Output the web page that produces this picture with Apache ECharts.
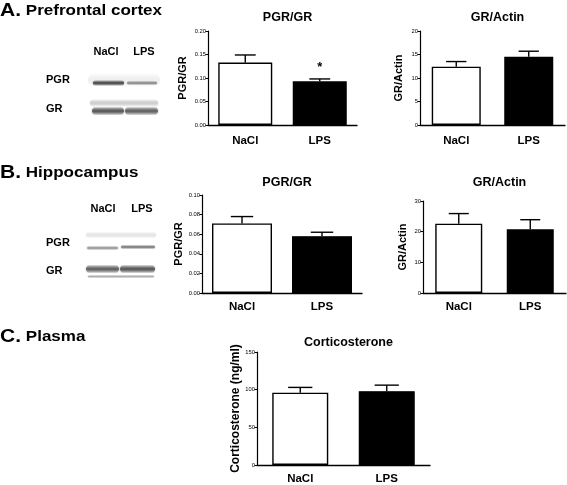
<!DOCTYPE html>
<html>
<head>
<meta charset="utf-8">
<script src="https://cdn.jsdelivr.net/npm/echarts@6/dist/echarts.min.js"></script>
<style>
  html, body { margin: 0; padding: 0; background: #fff; }
  #main { width: 567px; height: 485px; }
</style>
</head>
<body>
<div id="main"></div>
<script>
// groups and values (mean and upper error bar)
var groups = ['NaCl', 'LPS'];
var barColors = ['#ffffff', '#000000'];

var pfcPgrGr = [0.133, 0.093];
var pfcPgrGrErr = [0.149, 0.098];
var pfcPgrGrStars = ['', '*'];
var pfcGrActin = [12.4, 14.5];
var pfcGrActinErr = [13.5, 15.7];

var hipPgrGr = [0.071, 0.058];
var hipPgrGrErr = [0.078, 0.062];
var hipGrActin = [22.6, 20.8];
var hipGrActinErr = [25.9, 23.9];

var plasmaCort = [96, 98];
var plasmaCortErr = [103, 106];

var FONT = "'Liberation Sans', Arial, Helvetica, sans-serif";

document.addEventListener('DOMContentLoaded', function () {

    var myChart = echarts.init(document.getElementById('main'));

    // one panel = one grid, two axes, bars + error bars
    var panels = [
        { title: 'PGR/GR', yName: 'PGR/GR', grid: { left: 208, top: 31, width: 149, height: 94 },
          max: 0.20, interval: 0.05, digits: 2, mean: pfcPgrGr, err: pfcPgrGrErr, stars: pfcPgrGrStars,
          barWidth: 54, nameGap: 20, nameSize: 11, labelMargin: 10, titleTop: 6 },
        { title: 'GR/Actin', yName: 'GR/Actin', grid: { left: 420, top: 31, width: 145, height: 94 },
          max: 20, interval: 5, digits: 0, mean: pfcGrActin, err: pfcGrActinErr, stars: null,
          barWidth: 49, nameGap: 16, nameSize: 11, labelMargin: 10, titleTop: 6 },
        { title: 'PGR/GR', yName: 'PGR/GR', grid: { left: 202, top: 195, width: 160, height: 98 },
          max: 0.10, interval: 0.02, digits: 2, mean: hipPgrGr, err: hipPgrGrErr, stars: null,
          barWidth: 60, nameGap: 14, nameSize: 11, labelMargin: 8, titleTop: 171 },
        { title: 'GR/Actin', yName: 'GR/Actin', grid: { left: 423, top: 201, width: 143, height: 92 },
          max: 30, interval: 10, digits: 0, mean: hipGrActin, err: hipGrActinErr, stars: null,
          barWidth: 47, nameGap: 15, nameSize: 11, labelMargin: 8, titleTop: 171 },
        { title: 'Corticosterone', yName: 'Corticosterone (ng/ml)', grid: { left: 257, top: 352, width: 173, height: 115 },
          max: 150, interval: 50, digits: 0, mean: plasmaCort, err: plasmaCortErr, stars: null,
          barWidth: 56, nameGap: 15, nameSize: 12, labelMargin: 8, titleTop: 331 }
    ];

    var grids = [], xAxes = [], yAxes = [], series = [], titles = [];

    panels.forEach(function (p, gi) {
        grids.push(Object.assign({ containLabel: false }, p.grid));
        titles.push({
            text: p.title, left: p.grid.left + p.grid.width / 2, top: p.titleTop, textAlign: 'center',
            textStyle: { fontFamily: FONT, fontSize: 12.5, fontWeight: 'bold', color: '#000' }
        });
        xAxes.push({
            type: 'category', gridIndex: gi, data: groups,
            axisLine: { lineStyle: { color: '#000', width: 1.4 } },
            axisTick: { alignWithLabel: true, length: 3, lineStyle: { color: '#000', width: 1 } },
            axisLabel: { color: '#000', fontFamily: FONT, fontWeight: 'bold', fontSize: 11.5, margin: p.labelMargin }
        });
        yAxes.push({
            type: 'value', gridIndex: gi, min: 0, max: p.max, interval: p.interval,
            name: p.yName, nameLocation: 'middle', nameGap: p.nameGap,
            nameTextStyle: { fontFamily: FONT, fontWeight: 'bold', fontSize: p.nameSize, color: '#000' },
            axisLine: { show: true, lineStyle: { color: '#000', width: 1.2 } },
            axisTick: { show: true, length: 2.5, lineStyle: { color: '#000', width: 1 } },
            axisLabel: { color: '#000', fontFamily: FONT, fontSize: 5.8, margin: 2,
                formatter: function (v) { return v.toFixed(p.digits); } },
            splitLine: { show: false }
        });
        series.push({
            type: 'bar', xAxisIndex: gi, yAxisIndex: gi, barWidth: p.barWidth, silent: true,
            data: p.mean.map(function (v, i) {
                return { value: v, itemStyle: { color: barColors[i], borderColor: '#000', borderWidth: 1.4 } };
            })
        });
        series.push({
            type: 'custom', xAxisIndex: gi, yAxisIndex: gi, silent: true, z: 5,
            data: p.mean.map(function (v, i) { return [i, v, p.err[i]]; }),
            renderItem: function (params, api) {
                var base = api.coord([api.value(0), api.value(1)]);
                var top = api.coord([api.value(0), api.value(2)]);
                var half = api.size([1, 0])[0] * 0.14;
                var line = { stroke: '#000', lineWidth: 1.4 };
                var kids = [
                    { type: 'line', shape: { x1: base[0], y1: base[1], x2: top[0], y2: top[1] }, style: line },
                    { type: 'line', shape: { x1: top[0] - half, y1: top[1], x2: top[0] + half, y2: top[1] }, style: line }
                ];
                var star = p.stars ? p.stars[params.dataIndex] : '';
                if (star) {
                    kids.push({ type: 'text', x: top[0], y: top[1] - 5,
                        style: { text: star, fontFamily: FONT, fontWeight: 'bold', fontSize: 13, fill: '#000',
                            align: 'center', verticalAlign: 'bottom' } });
                }
                return { type: 'group', children: kids };
            }
        });
    });

    // western blot pictures, drawn as soft grey bands
    function band(x, y, w, h, gray) {
        var c = 'rgba(' + gray + ',' + gray + ',' + gray + ',';
        return {
            type: 'rect', silent: true,
            shape: { x: x, y: y - h / 2, width: w, height: h, r: h / 2 },
            style: { fill: new echarts.graphic.LinearGradient(0, 0, 0, 1, [
                { offset: 0, color: c + '0)' }, { offset: 0.5, color: c + '1)' }, { offset: 1, color: c + '0)' }
            ]), shadowBlur: 2, shadowColor: c + '0.6)' }
        };
    }
    function label(text, x, y, size, align) {
        return { type: 'text', x: x, y: y, silent: true,
            style: { text: text, fontFamily: FONT, fontWeight: 'bold', fontSize: size, fill: '#000',
                align: align || 'left', verticalAlign: 'middle' } };
    }
    function heading(letter, text, y) {
        return { type: 'text', x: 0, y: y, silent: true, scaleX: 1.2,
            style: { text: '{a|' + letter + '}{b|' + text + '}', verticalAlign: 'middle',
                rich: { a: { fontFamily: FONT, fontWeight: 'bold', fontSize: 17.5, fill: '#000', padding: [0, 4, 0, 0] },
                        b: { fontFamily: FONT, fontWeight: 'bold', fontSize: 14.2, fill: '#000' } } } };
    }

    var blot = [
        heading('A.', 'Prefrontal cortex', 11),
        heading('B.', 'Hippocampus', 173),
        heading('C.', 'Plasma', 337),

        label('NaCl', 106, 52, 11, 'center'), label('LPS', 144, 52, 11, 'center'),
        label('PGR', 46, 80, 11), label('GR', 46, 109, 11),
        band(88, 80, 72, 14, 238),
        band(93, 83, 31, 6, 70), band(127, 83, 30, 4.5, 135),
        band(90, 103, 68, 8, 205),
        band(92, 111, 32, 9, 85), band(125, 111, 33, 9, 95),

        label('NaCl', 103, 209, 11, 'center'), label('LPS', 142, 209, 11, 'center'),
        label('PGR', 46, 243, 11), label('GR', 46, 271, 11),
        band(86, 235, 70, 7, 228),
        band(87, 248, 31, 4.5, 150), band(121, 247, 34, 4.5, 120),
        band(86, 269, 33, 9, 95), band(120, 269, 35, 9, 85),
        band(88, 276.5, 66, 3.5, 175)
    ];

    var option = {
        animation: false,
        textStyle: { fontFamily: FONT },
        title: titles,
        grid: grids,
        xAxis: xAxes,
        yAxis: yAxes,
        series: series,
        graphic: { elements: blot }
    };

    myChart.setOption(option);

    window.addEventListener('resize', function () {
        myChart.resize();
    });
});
</script>
</body>
</html>
